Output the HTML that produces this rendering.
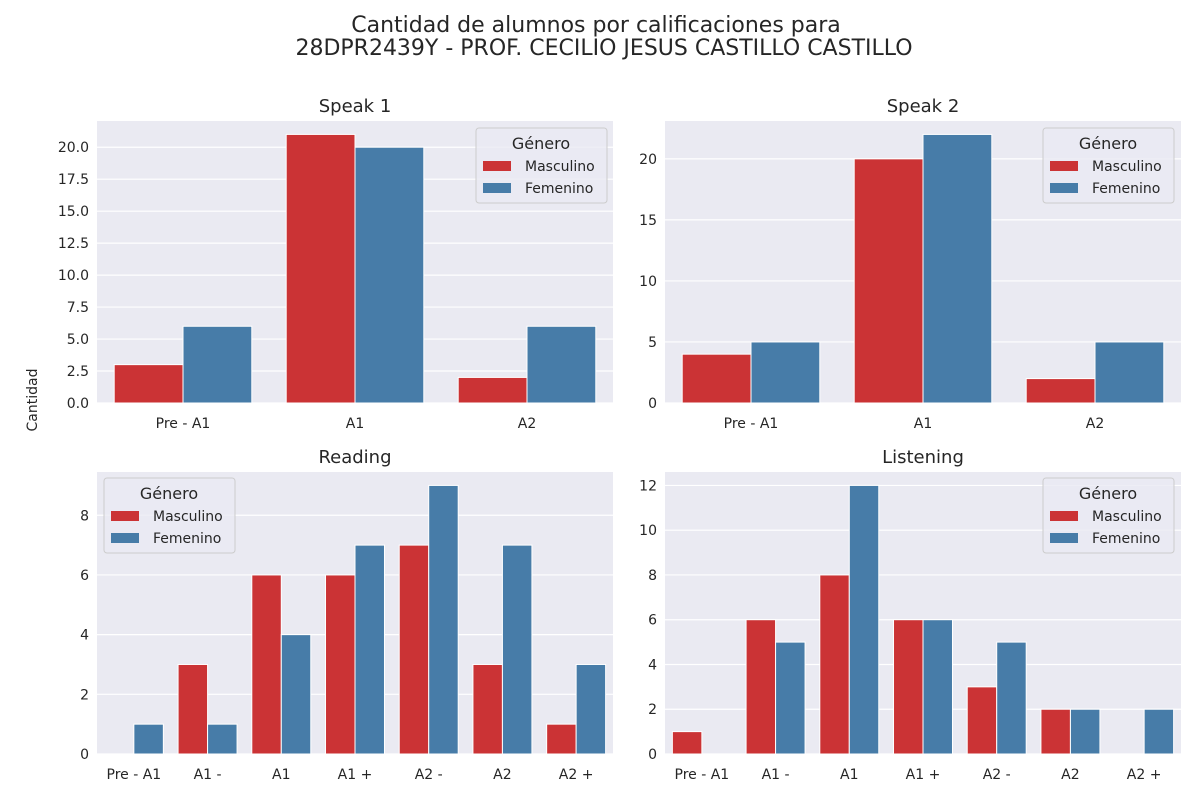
<!DOCTYPE html>
<html><head><meta charset="utf-8"><style>
body{margin:0;background:#fff;font-family:"Liberation Sans","DejaVu Sans",sans-serif}
svg text{font-family:"DejaVu Sans","Liberation Sans",sans-serif;fill:#262626}
</style></head><body>
<svg id="c" width="1200" height="800">
<text x="596" y="32" font-size="22" text-anchor="middle">Cantidad de alumnos por calificaciones para</text>
<text x="604" y="55" font-size="22" text-anchor="middle">28DPR2439Y - PROF. CECILIO JESUS CASTILLO CASTILLO</text>
<text transform="translate(37,400) rotate(-90)" font-size="14" text-anchor="middle">Cantidad</text>
</svg>
<script>
const speakCats=["Pre - A1","A1","A2"];
const speak1Masc=[3,21,2];
const speak1Fem=[6,20,6];
const speak1Ticks=["0.0","2.5","5.0","7.5","10.0","12.5","15.0","17.5","20.0"];
const speak2Masc=[4,20,2];
const speak2Fem=[5,22,5];
const speak2Ticks=[0,5,10,15,20];
const readCats=["Pre - A1","A1 -","A1","A1 +","A2 -","A2","A2 +"];
const readMasc=[0,3,6,6,7,3,1];
const readFem=[1,1,4,7,9,7,3];
const readTicks=[0,2,4,6,8];
const listMasc=[1,6,8,6,3,2,0];
const listFem=[0,5,12,6,5,2,2];
const listTicks=[0,2,4,6,8,10,12];
const RED="#cb3335",BLUE="#477ca8";
const NS="http://www.w3.org/2000/svg";
const svg=document.getElementById('c');
function mk(tag,attrs,parent){const e=document.createElementNS(NS,tag);for(const k in attrs)e.setAttribute(k,attrs[k]);(parent||svg).appendChild(e);return e;}
function panel(name,title,x0,y0,w,h,cats,masc,fem,ticks,legPos){
  const g=mk('g',{});
  
  
  const maxV=Math.max(...masc,...fem)*1.05;
  const y=v=>y0+h-v/maxV*h;
  const n=cats.length,cw=w/n;
  const xc=i=>x0+cw*(i+0.5);
  const bg=mk('rect',{x:x0,y:y0,width:w,height:h,fill:"#eaeaf2"},g);
  
  
  ticks.forEach(t=>{const v=parseFloat(t);const yy=y(v);
    mk('line',{x1:x0,x2:x0+w,y1:yy,y2:yy,stroke:"#fff","stroke-width":1.2},g);
    const tx=mk('text',{x:x0-8,y:yy+5,"font-size":14,"text-anchor":"end"},g);tx.textContent=t;
    
    });
  const bw=cw*0.4;
  cats.forEach((c,i)=>{
    [[masc,RED,-1],[fem,BLUE,0]].forEach(([arr,col,off])=>{
      const v=arr[i];if(!v)return;
      const r=mk('rect',{x:xc(i)+off*bw,y:y(v),width:bw,height:y(0)-y(v),fill:col,stroke:"#fff","stroke-width":1},g);
      
      
    });
    const tx=mk('text',{x:xc(i),y:y0+h+25,"font-size":14,"text-anchor":"middle"},g);tx.textContent=c;
    
    
  });
  const tt=mk('text',{x:x0+w/2,y:y0-9,"font-size":18,"text-anchor":"middle"},g);tt.textContent=title;
  
  
  if(legPos){const [lx,ly]=legPos;
    const lg=mk('g',{},g);
    
    
    mk('rect',{x:lx,y:ly,width:131,height:75,rx:3,fill:"#eaeaf2",stroke:"#cccccc","fill-opacity":0.8},lg);
    const lt=mk('text',{x:lx+65,y:ly+21,"font-size":16,"text-anchor":"middle"},lg);lt.textContent="Género";
    [["Masculino",RED],["Femenino",BLUE]].forEach(([lab,col],k)=>{
      const e=mk('g',{},lg);
      
      
      mk('rect',{x:lx+7,y:ly+33+k*22,width:28,height:10,fill:col},e);
      const t=mk('text',{x:lx+49,y:ly+43+k*22,"font-size":14},e);t.textContent=lab;
    });
  }
}
panel('speak1','Speak 1',97,121,516,282,speakCats,speak1Masc,speak1Fem,speak1Ticks,[476,128]);
panel('speak2','Speak 2',665,121,516,282,speakCats,speak2Masc,speak2Fem,speak2Ticks,[1043,128]);
panel('reading','Reading',97,472,516,282,readCats,readMasc,readFem,readTicks,[104,478]);
panel('listening','Listening',665,472,516,282,readCats,listMasc,listFem,listTicks,[1043,478]);
</script>
</body></html>
